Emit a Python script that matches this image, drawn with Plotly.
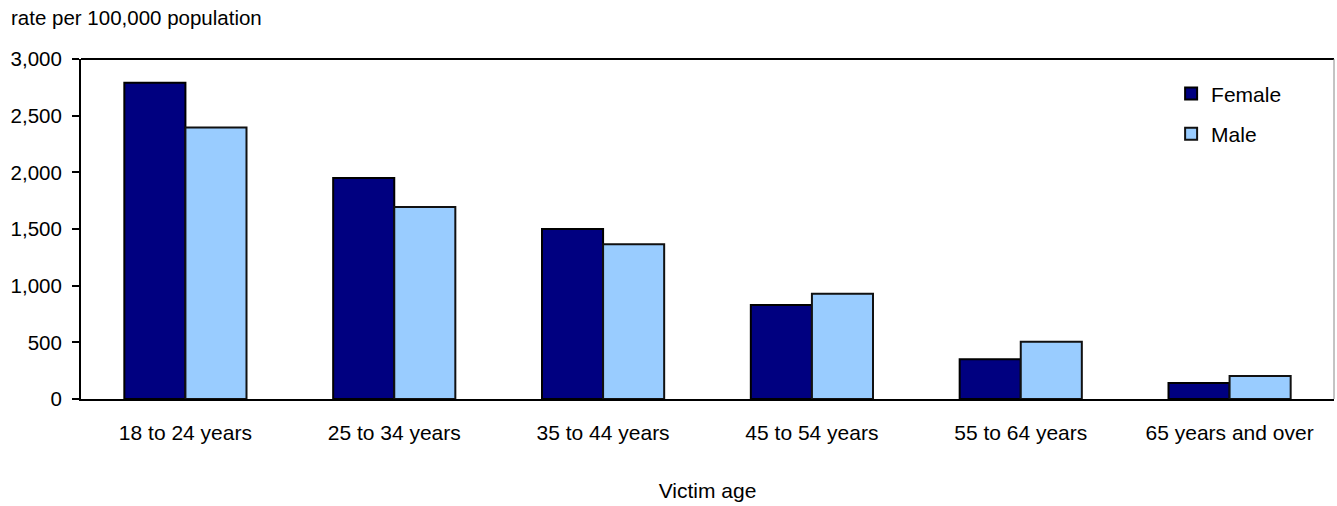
import plotly.graph_objects as go

categories = ["18 to 24 years", "25 to 34 years", "35 to 44 years",
              "45 to 54 years", "55 to 64 years", "65 years and over"]
female = [2790, 1950, 1500, 829, 350, 141]
male = [2395, 1694, 1365, 929, 506, 203]
y_ticks = [0, 500, 1000, 1500, 2000, 2500, 3000]
y_ticklabels = ["0", "500", "1,000", "1,500", "2,000", "2,500", "3,000"]

FONT = "Liberation Sans, Arial, sans-serif"

fig = go.Figure()
fig.add_trace(go.Bar(x=categories, y=female, name="Female", legendgroup="f",
                     marker=dict(color="#000080", line=dict(color="#000000", width=2))))
fig.add_trace(go.Bar(x=categories, y=male, name="Male", legendgroup="m",
                     marker=dict(color="#99CCFF", line=dict(color="#111111", width=2))))

fig.update_layout(
    width=1337, height=506,
    margin=dict(l=81, r=3, t=59, b=107),
    paper_bgcolor="white", plot_bgcolor="white",
    font=dict(family=FONT, size=21, color="#000000"),
    barmode="group", bargap=0.415, bargroupgap=0,
    showlegend=True,
    legend=dict(x=0.870, y=0.958, xanchor="left", yanchor="top",
                bgcolor="rgba(0,0,0,0)", font=dict(size=21),
                tracegroupgap=10, itemwidth=30),
    xaxis=dict(showline=True, linecolor="#000000", linewidth=2,
               ticks="", showgrid=False, ticklabelstandoff=14,
               tickfont=dict(size=21),
               title=dict(text="Victim age", standoff=40, font=dict(size=21))),
    yaxis=dict(range=[0, 3000], tickvals=y_ticks, ticktext=y_ticklabels,
               showline=True, linecolor="#000000", linewidth=2,
               ticks="outside", ticklen=7, tickwidth=1.5, tickcolor="#000000",
               showgrid=False, zeroline=False, ticklabelstandoff=6,
               tickfont=dict(size=20.5)),
    shapes=[
        dict(type="line", xref="paper", yref="paper", x0=0, x1=1, y0=1, y1=1,
             line=dict(color="#000000", width=2)),
        dict(type="line", xref="paper", yref="paper", x0=1, x1=1, y0=0, y1=1,
             line=dict(color="#888888", width=1)),
    ],
    annotations=[
        dict(text="rate per 100,000 population", xref="paper", yref="paper",
             x=-0.0575, y=1.123, xanchor="left", yanchor="middle", showarrow=False,
             font=dict(size=20.5)),
    ],
)

fig.write_html("out.html", config={"displayModeBar": False},
               post_script="document.body.style.margin='0';")
